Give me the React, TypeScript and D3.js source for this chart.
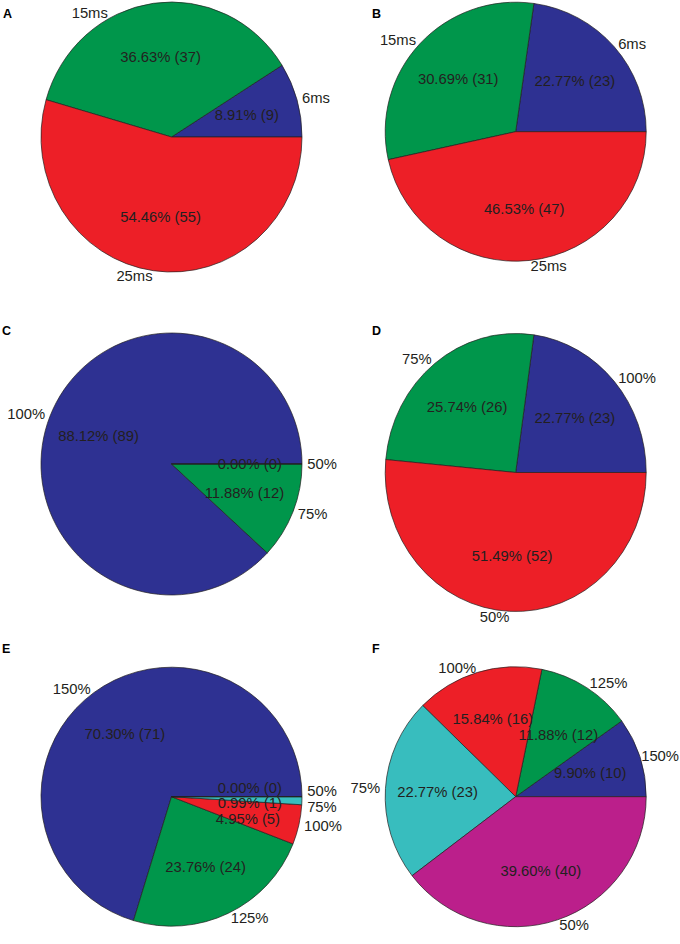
import React, { useMemo } from "react";
import * as d3 from "d3";

const WIDTH = 680;
const HEIGHT = 944;
const FONT = "'Liberation Sans', Arial, Helvetica, sans-serif";
const FONT_SIZE = 14.8;

// categories and counts per panel
const DELAY_LABELS = ["6ms", "15ms", "25ms"];
const COUNTS_A = [9, 37, 55];
const COUNTS_B = [23, 31, 47];

const LEVEL_LABELS_3 = ["100%", "75%", "50%"];
const COUNTS_C = [89, 12, 0];
const COUNTS_D = [23, 26, 52];

const LEVEL_LABELS_5 = ["150%", "125%", "100%", "75%", "50%"];
const COUNTS_E = [71, 24, 5, 1, 0];
const COUNTS_F = [10, 12, 16, 23, 40];

const COLORS = ["#2e3192", "#00964b", "#ed1f27", "#38bdbe", "#bb1f8b"];
const STROKE = "#231f20";

// panel layout: centre, radii, vertical bounds of the cell
const PANELS = [
  { letter: "A", labels: DELAY_LABELS, counts: COUNTS_A, cx: 171.5, cy: 137, rx: 130.5, ry: 135, top: 0, bottom: 300 },
  { letter: "B", labels: DELAY_LABELS, counts: COUNTS_B, cx: 515.7, cy: 131.7, rx: 130.5, ry: 129.5, top: 0, bottom: 300 },
  { letter: "C", labels: LEVEL_LABELS_3, counts: COUNTS_C, cx: 171.5, cy: 464, rx: 130.5, ry: 131, top: 318, bottom: 632 },
  { letter: "D", labels: LEVEL_LABELS_3, counts: COUNTS_D, cx: 515.7, cy: 472.5, rx: 130.5, ry: 139, top: 318, bottom: 632 },
  { letter: "E", labels: LEVEL_LABELS_5, counts: COUNTS_E, cx: 171.5, cy: 796.7, rx: 130.5, ry: 129.5, top: 638, bottom: 944 },
  { letter: "F", labels: LEVEL_LABELS_5, counts: COUNTS_F, cx: 515.7, cy: 796.7, rx: 130.5, ry: 130, top: 638, bottom: 944 },
];

const LETTER_POS = [
  { x: 3, y: 18 },
  { x: 372, y: 18 },
  { x: 2, y: 335 },
  { x: 372, y: 335 },
  { x: 2, y: 653 },
  { x: 372, y: 653 },
];

// rough Arial advance widths, used to keep labels apart
const CHAR_W: Record<string, number> = {
  ".": 0.278, " ": 0.278, "%": 0.889, "(": 0.333, ")": 0.333, m: 0.833, s: 0.5,
};
const textWidth = (t: string) =>
  t.split("").reduce((s, c) => s + (CHAR_W[c] ?? 0.556), 0) * FONT_SIZE;

type Label = { text: string; x: number; y: number; anchor: string; w: number };

const boxLeft = (l: Label) =>
  l.anchor === "start" ? l.x : l.anchor === "end" ? l.x - l.w : l.x - l.w / 2;

// push labels that sit on top of each other apart vertically
const relax = (labels: Label[], gap: number) => {
  for (let it = 0; it < 30; it++) {
    for (let i = 0; i < labels.length; i++) {
      for (let j = i + 1; j < labels.length; j++) {
        const a = labels[i];
        const b = labels[j];
        const overlapX =
          boxLeft(a) < boxLeft(b) + b.w && boxLeft(b) < boxLeft(a) + a.w;
        const dy = b.y - a.y;
        if (overlapX && Math.abs(dy) < gap) {
          const push = (gap - Math.abs(dy)) / 2;
          const dir = dy >= 0 ? 1 : -1;
          a.y -= push * dir;
          b.y += push * dir;
        }
      }
    }
  }
  return labels;
};

// keep a label's box inside the svg horizontally
const fitX = (l: Label) => {
  const left = boxLeft(l);
  if (left + l.w > WIDTH - 1) l.x -= left + l.w - (WIDTH - 1);
  if (left < 1) l.x += 1 - left;
  return l;
};

const R = 100; // arcs are drawn at R and scaled to each panel's radii

const PiePanel = ({ panel }) => {
  const { labels, counts, cx, cy, rx, ry, top, bottom } = panel;
  const total = d3.sum(counts);

  // counter-clockwise from 3 o'clock
  const arcs = useMemo(
    () =>
      d3
        .pie<number>()
        .sort(null)
        .startAngle(Math.PI / 2)
        .endAngle(Math.PI / 2 - 2 * Math.PI)(counts),
    [counts]
  );
  const arcGen = d3.arc<d3.PieArcDatum<number>>().innerRadius(0).outerRadius(R);

  const midTheta = (a) => Math.PI / 2 - (a.startAngle + a.endAngle) / 2;

  const inner = relax(
    arcs.map((a, i) => {
      const t = midTheta(a);
      const text = `${d3.format(".2f")((counts[i] / total) * 100)}% (${counts[i]})`;
      return {
        text,
        x: cx + 0.6 * rx * Math.cos(t),
        y: cy - 0.6 * ry * Math.sin(t),
        anchor: "middle",
        w: textWidth(text),
      };
    }),
    15.5
  );

  const outer = relax(
    arcs.map((a, i) => {
      let t = midTheta(a);
      const k = 1.04;
      let y = cy - k * ry * Math.sin(t);
      // keep labels inside the cell by sliding them along the rim
      const minY = top + 13;
      const maxY = bottom - 6;
      if (y < minY || y > maxY) {
        const lim = y < minY ? minY : maxY;
        const s = (cy - lim) / (k * ry);
        const base = Math.asin(Math.max(-1, Math.min(1, s)));
        t = Math.cos(t) >= 0 ? base : Math.PI - base;
        y = lim;
      }
      const x = cx + k * rx * Math.cos(t);
      return fitX({
        text: labels[i],
        x,
        y,
        anchor: Math.cos(t) < 0 ? "end" : "start",
        w: textWidth(labels[i]),
      });
    }),
    15.5
  );

  return (
    <g>
      <g transform={`translate(${cx},${cy}) scale(${rx / R},${ry / R})`}>
        {arcs.map((a, i) => (
          <path
            key={i}
            d={arcGen(a) || ""}
            fill={COLORS[i]}
            stroke={STROKE}
            strokeWidth={0.7}
            strokeLinejoin="round"
            vectorEffect="non-scaling-stroke"
          />
        ))}
      </g>
      {inner.map((l, i) => (
        <text
          key={"in" + i}
          x={l.x}
          y={l.y}
          dy="0.35em"
          textAnchor={l.anchor}
          fontSize={FONT_SIZE}
          fontFamily={FONT}
          fill={STROKE}
        >
          {l.text}
        </text>
      ))}
      {outer.map((l, i) => (
        <text
          key={"out" + i}
          x={l.x}
          y={l.y}
          dy="0.35em"
          textAnchor={l.anchor}
          fontSize={FONT_SIZE}
          fontFamily={FONT}
          fill={STROKE}
        >
          {l.text}
        </text>
      ))}
    </g>
  );
};

export default function App() {
  return (
    <svg
      width={WIDTH}
      height={HEIGHT}
      style={{ position: "absolute", left: 0, top: 0, background: "#fff" }}
    >
      <rect width={WIDTH} height={HEIGHT} fill="#fff" />
      {PANELS.map((p, i) => (
        <g key={p.letter}>
          <PiePanel panel={p} />
          <text
            x={LETTER_POS[i].x}
            y={LETTER_POS[i].y}
            fontSize={12.5}
            fontWeight="bold"
            fontFamily={FONT}
            fill="#000"
          >
            {p.letter}
          </text>
        </g>
      ))}
    </svg>
  );
}
